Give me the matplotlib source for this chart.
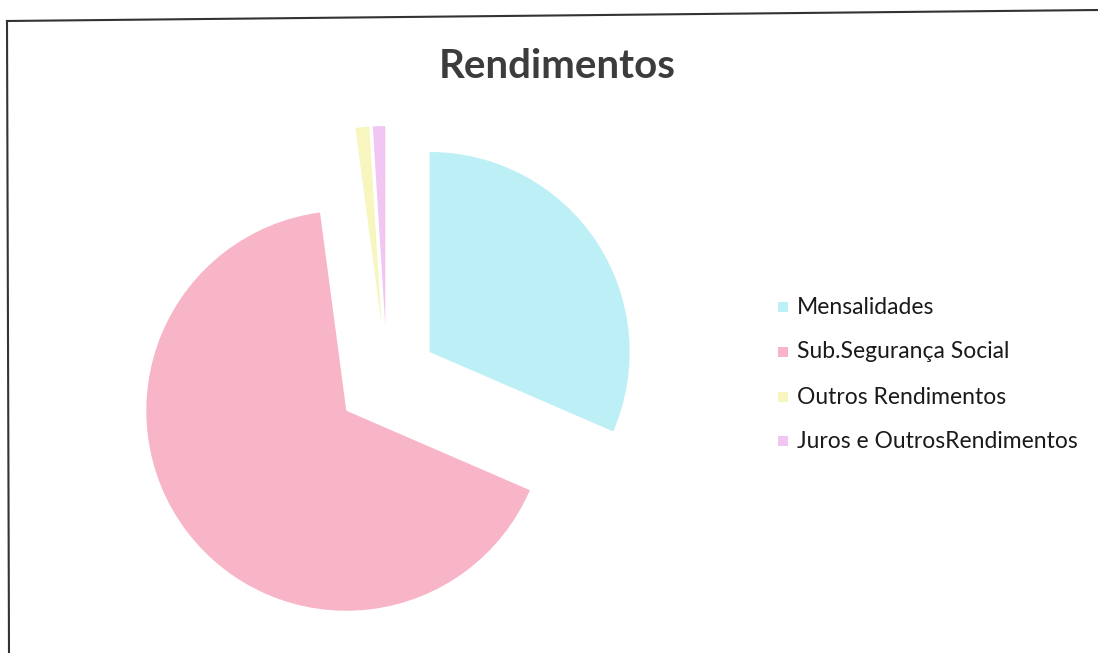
import matplotlib
matplotlib.use("Agg")
import matplotlib.pyplot as plt
from matplotlib.lines import Line2D

categories = ["Mensalidades", "Sub.Segurança Social", "Outros Rendimentos", "Juros e OutrosRendimentos"]
values = [31.5, 66.4, 1.1, 1.0]
colors = ["#bdeff7", "#f7b5c7", "#f7f6bf", "#f1c6f2"]
explode = [0.255, 0.255, 0.27, 0.27]

W, H = 1098, 653
fig = plt.figure(figsize=(W / 100, H / 100), dpi=100)
fig.patch.set_facecolor("white")

# pie axes: centre at (387, 380) px, radius 200 px
cx, cy, R = 387, 380, 200
half = 1.5
ax = fig.add_axes([(cx - half * R) / W, (H - cy - half * R) / H, 2 * half * R / W, 2 * half * R / H])
ax.pie(values, colors=colors, explode=explode, startangle=90, counterclock=False,
       radius=1.0, wedgeprops=dict(linewidth=0))
ax.set_xlim(-half, half)
ax.set_ylim(-half, half)
ax.set_aspect("equal")
ax.axis("off")

fig.text(557 / W, 1 - 66 / H, "Rendimentos", ha="center", va="center",
         fontsize=29, fontweight="bold", color="#3c3c3c", family="Lato")

# legend
ys = [307, 352, 397, 441]
for lab, col, y in zip(categories, colors, ys):
    fig.patches.append(plt.Rectangle((778 / W, 1 - (y + 5) / H), 10 / W, 10 / H,
                                     transform=fig.transFigure, facecolor=col, edgecolor="none"))
    fig.text(797 / W, 1 - y / H, lab, ha="left", va="center", fontsize=16.5,
             color="#1a1a1a", family="Lato")

# frame lines
fig.add_artist(Line2D([7 / W, 1.0], [1 - 21 / H, 1 - 10 / H], color="#333333", lw=1.5,
                      transform=fig.transFigure))
fig.add_artist(Line2D([7 / W, 9 / W], [1 - 21 / H, 0.0], color="#333333", lw=1.5,
                      transform=fig.transFigure))

fig.savefig("out.png", dpi=100, facecolor="white")
